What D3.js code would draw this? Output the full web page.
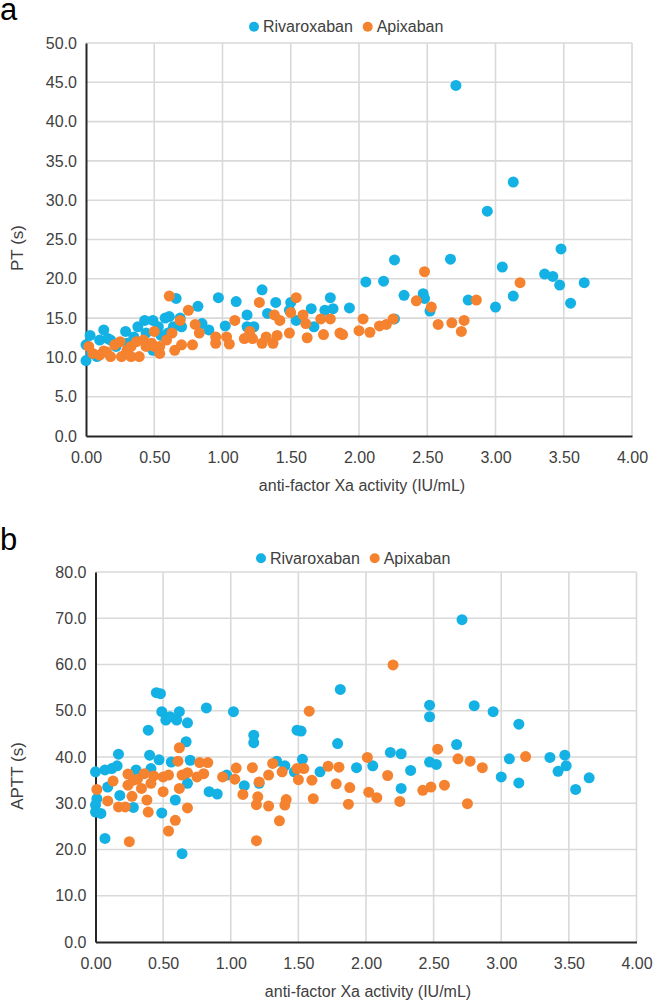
<!DOCTYPE html>
<html>
<head>
<meta charset="utf-8">
<script src="https://cdn.jsdelivr.net/npm/d3@7"></script>
<style>
  body { margin: 0; background: #fff; }
  text { font-family: "Liberation Sans", Arial, sans-serif; fill: #404040; }
</style>
</head>
<body>
<div id="chart"></div>
<script>
var seriesNames = ["Rivaroxaban", "Apixaban"];
var seriesColors = ["#13b1e4", "#f5822f"];

var xTicks = [0, 0.5, 1, 1.5, 2, 2.5, 3, 3.5, 4];
var ptTicks = [0, 5, 10, 15, 20, 25, 30, 35, 40, 45, 50];
var apttTicks = [0, 10, 20, 30, 40, 50, 60, 70, 80];

// [anti-Xa, PT]
var rivaroxabanPT = [
  [0.00, 9.6], [0.00, 11.6], [0.03, 12.8], [0.04, 10.5], [0.08, 10.1], [0.10, 12.2],
  [0.13, 13.5], [0.16, 12.4], [0.18, 12.2], [0.22, 11.4], [0.29, 13.3], [0.30, 11.8],
  [0.35, 12.6], [0.38, 13.9], [0.43, 14.7], [0.44, 13.1], [0.49, 14.7], [0.49, 10.9],
  [0.53, 13.9], [0.55, 12.8], [0.58, 15.0], [0.60, 13.1], [0.61, 15.2], [0.64, 13.9],
  [0.66, 17.5], [0.69, 15.0], [0.70, 13.9], [0.82, 16.5], [0.85, 14.3], [0.90, 13.5],
  [0.97, 17.6], [1.02, 14.0], [1.10, 17.1], [1.18, 15.4], [1.18, 13.9], [1.23, 13.9],
  [1.29, 18.6], [1.33, 15.6], [1.39, 17.0], [1.49, 16.0], [1.50, 17.0], [1.54, 14.7],
  [1.65, 16.2], [1.67, 13.9], [1.75, 16.0], [1.79, 17.6], [1.81, 16.2], [1.93, 16.3],
  [2.05, 19.6], [2.18, 19.7], [2.26, 22.4], [2.26, 14.9], [2.33, 17.9], [2.47, 18.1],
  [2.48, 17.5], [2.52, 15.9], [2.67, 22.5], [2.71, 44.6], [2.80, 17.3], [2.94, 28.6],
  [3.00, 16.4], [3.05, 21.5], [3.13, 17.8], [3.13, 32.3], [3.36, 20.6], [3.42, 20.3],
  [3.47, 19.2], [3.48, 23.8], [3.55, 16.9], [3.65, 19.5]
];
var apixabanPT = [
  [0.02, 11.4], [0.05, 10.5], [0.10, 10.3], [0.13, 10.8], [0.15, 10.7], [0.18, 10.1],
  [0.21, 11.6], [0.25, 12.0], [0.26, 10.1], [0.30, 10.9], [0.33, 11.4], [0.33, 10.1],
  [0.37, 12.0], [0.39, 10.1], [0.42, 12.2], [0.44, 11.4], [0.48, 11.8], [0.50, 13.3],
  [0.50, 11.4], [0.54, 10.5], [0.54, 11.4], [0.59, 12.2], [0.61, 17.8], [0.63, 13.1],
  [0.65, 10.9], [0.69, 14.7], [0.70, 11.6], [0.75, 16.0], [0.78, 11.6], [0.80, 14.2],
  [0.83, 13.1], [0.95, 12.6], [0.95, 11.8], [1.03, 12.6], [1.05, 11.7], [1.09, 14.7],
  [1.16, 12.4], [1.20, 13.3], [1.22, 12.4], [1.27, 17.0], [1.29, 11.8], [1.32, 12.6],
  [1.37, 11.8], [1.38, 15.4], [1.40, 12.8], [1.42, 14.7], [1.49, 13.1], [1.50, 15.7],
  [1.54, 17.6], [1.59, 15.4], [1.61, 14.3], [1.62, 12.5], [1.72, 14.9], [1.74, 12.9],
  [1.79, 14.9], [1.86, 13.1], [1.88, 12.9], [2.00, 13.4], [2.03, 14.9], [2.08, 13.2],
  [2.15, 14.0], [2.20, 14.2], [2.25, 14.9], [2.42, 17.2], [2.48, 20.9], [2.53, 16.4],
  [2.58, 14.2], [2.68, 14.4], [2.75, 13.3], [2.77, 14.7], [2.86, 17.3], [3.18, 19.5]
];

// [anti-Xa, APTT]
var rivaroxabanAPTT = [
  [0.00, 36.8], [0.01, 31.0], [0.00, 29.6], [0.00, 28.1], [0.04, 27.8], [0.07, 22.4],
  [0.07, 37.2], [0.09, 33.5], [0.12, 37.5], [0.16, 38.1], [0.17, 40.6], [0.18, 31.7],
  [0.28, 29.1], [0.30, 37.2], [0.39, 45.8], [0.40, 40.4], [0.41, 37.5], [0.45, 53.9],
  [0.48, 53.7], [0.47, 39.4], [0.49, 49.8], [0.49, 27.9], [0.52, 48.0], [0.55, 48.7],
  [0.56, 38.9], [0.59, 30.7], [0.60, 48.0], [0.62, 49.8], [0.64, 19.1], [0.67, 43.3],
  [0.68, 47.4], [0.70, 39.3], [0.68, 34.3], [0.82, 50.6], [0.84, 32.5], [0.90, 32.0],
  [0.97, 36.1], [1.02, 49.8], [1.10, 33.8], [1.17, 44.7], [1.17, 43.1], [1.21, 34.3],
  [1.34, 39.1], [1.40, 38.1], [1.47, 36.8], [1.49, 45.8], [1.52, 45.6], [1.53, 39.5],
  [1.66, 36.8], [1.79, 42.9], [1.81, 54.6], [1.93, 37.7], [2.05, 38.1], [2.18, 41.0],
  [2.26, 40.7], [2.26, 33.2], [2.33, 37.1], [2.47, 51.2], [2.47, 48.7], [2.47, 38.9],
  [2.52, 38.4], [2.67, 42.7], [2.71, 69.7], [2.80, 51.1], [2.94, 49.8], [3.00, 35.7],
  [3.06, 39.6], [3.13, 47.1], [3.13, 34.4], [3.36, 39.9], [3.42, 36.9], [3.47, 40.4],
  [3.48, 38.1], [3.55, 33.0], [3.65, 35.5]
];
var apixabanAPTT = [
  [0.01, 33.0], [0.09, 30.5], [0.13, 34.8], [0.17, 29.2], [0.22, 29.2], [0.24, 36.3],
  [0.24, 33.9], [0.25, 21.7], [0.27, 31.5], [0.28, 35.0], [0.31, 35.2], [0.34, 33.2],
  [0.36, 36.4], [0.38, 30.7], [0.39, 28.1], [0.41, 34.3], [0.43, 35.9], [0.50, 32.5],
  [0.50, 35.7], [0.54, 36.1], [0.54, 24.0], [0.59, 26.3], [0.61, 39.1], [0.62, 42.0],
  [0.62, 33.2], [0.64, 36.1], [0.68, 29.0], [0.68, 36.6], [0.75, 35.7], [0.77, 38.8],
  [0.80, 36.4], [0.83, 38.8], [0.94, 35.7], [1.03, 35.2], [1.04, 37.6], [1.09, 31.9],
  [1.16, 37.7], [1.19, 29.7], [1.20, 31.4], [1.19, 21.9], [1.21, 34.6], [1.28, 29.4],
  [1.28, 36.1], [1.31, 38.6], [1.36, 26.2], [1.38, 36.8], [1.40, 29.6], [1.41, 30.8],
  [1.49, 37.5], [1.50, 35.1], [1.54, 37.5], [1.58, 49.9], [1.60, 35.0], [1.61, 31.0],
  [1.72, 38.0], [1.78, 34.2], [1.80, 37.8], [1.87, 29.8], [1.88, 33.4], [2.01, 39.9],
  [2.02, 32.4], [2.08, 31.2], [2.16, 36.0], [2.20, 59.9], [2.25, 30.4], [2.42, 32.8],
  [2.48, 33.5], [2.53, 41.7], [2.58, 33.9], [2.68, 39.6], [2.75, 29.9], [2.77, 39.1],
  [2.86, 37.7], [3.18, 40.1]
];

var svg = d3.select("#chart").append("svg")
  .attr("width", 657)
  .attr("height", 1004);

function drawPanel(p) {
  var x = d3.scaleLinear().domain([0, 4]).range([p.left, p.right]);
  var y = d3.scaleLinear().domain([0, p.yMax]).range([p.bottom, p.top]);
  var g = svg.append("g");

  // gridlines
  g.selectAll(".vg").data(xTicks.slice(1)).enter().append("line")
    .attr("x1", function (d) { return x(d); }).attr("x2", function (d) { return x(d); })
    .attr("y1", p.top).attr("y2", p.bottom)
    .attr("stroke", "#d9d9d9").attr("stroke-width", 1.6);
  g.selectAll(".hg").data(p.yTicks.slice(1)).enter().append("line")
    .attr("x1", p.left).attr("x2", p.right)
    .attr("y1", function (d) { return y(d); }).attr("y2", function (d) { return y(d); })
    .attr("stroke", "#d9d9d9").attr("stroke-width", 1.6);

  // axes
  var xa = g.append("g")
    .attr("transform", "translate(0," + p.bottom + ")")
    .call(d3.axisBottom(x).tickValues(xTicks).tickFormat(d3.format(".2f")).tickSize(0).tickPadding(16));
  var ya = g.append("g")
    .attr("transform", "translate(" + p.left + ",0)")
    .call(d3.axisLeft(y).tickValues(p.yTicks).tickFormat(d3.format(".1f")).tickSize(0).tickPadding(9));
  [xa, ya].forEach(function (a) {
    a.select(".domain").attr("stroke", "#262626").attr("stroke-width", 2);
    a.selectAll("text").style("font-size", "16px").attr("fill", "#404040")
      .style("font-family", "'Liberation Sans', Arial, sans-serif");
  });

  // points
  [p.blue, p.orange].forEach(function (data, i) {
    g.append("g").selectAll("circle")
      .data(data)
      .enter()
      .append("circle")
        .attr("cx", function (d) { return x(d[0]); })
        .attr("cy", function (d) { return y(d[1]); })
        .attr("r", 5.5)
        .style("fill", seriesColors[i]);
  });

  // legend
  seriesNames.forEach(function (name, i) {
    var lx = p.legendX + i * 113.7;
    g.append("circle").attr("cx", lx).attr("cy", p.legendY).attr("r", 5).style("fill", seriesColors[i]);
    g.append("text").attr("x", lx + 9).attr("y", p.legendY + 5.5)
      .style("font-size", "16px").text(name);
  });

  // titles
  g.append("text").attr("x", p.xTitleX).attr("y", p.xTitleY)
    .attr("text-anchor", "middle").style("font-size", "16px")
    .text("anti-factor Xa activity (IU/mL)");
  g.append("text")
    .attr("transform", "translate(23," + p.yTitleY + ") rotate(-90)")
    .attr("text-anchor", "middle").style("font-size", "17px")
    .text(p.yTitle);
  g.append("text").attr("x", 0).attr("y", p.letterY)
    .style("font-size", "31px").style("fill", "#000").text(p.letter);
}

drawPanel({
  left: 86, right: 632, top: 43, bottom: 436, yMax: 50, yTicks: ptTicks,
  blue: rivaroxabanPT, orange: apixabanPT,
  legendX: 254, legendY: 26.7, xTitleX: 362, xTitleY: 491,
  yTitle: "PT (s)", yTitleY: 248, letter: "a", letterY: 20
});
drawPanel({
  left: 95.5, right: 636.5, top: 572, bottom: 942, yMax: 80, yTicks: apttTicks,
  blue: rivaroxabanAPTT, orange: apixabanAPTT,
  legendX: 261, legendY: 558.3, xTitleX: 368, xTitleY: 997,
  yTitle: "APTT (s)", yTitleY: 776, letter: "b", letterY: 550
});
</script>
</body>
</html>
